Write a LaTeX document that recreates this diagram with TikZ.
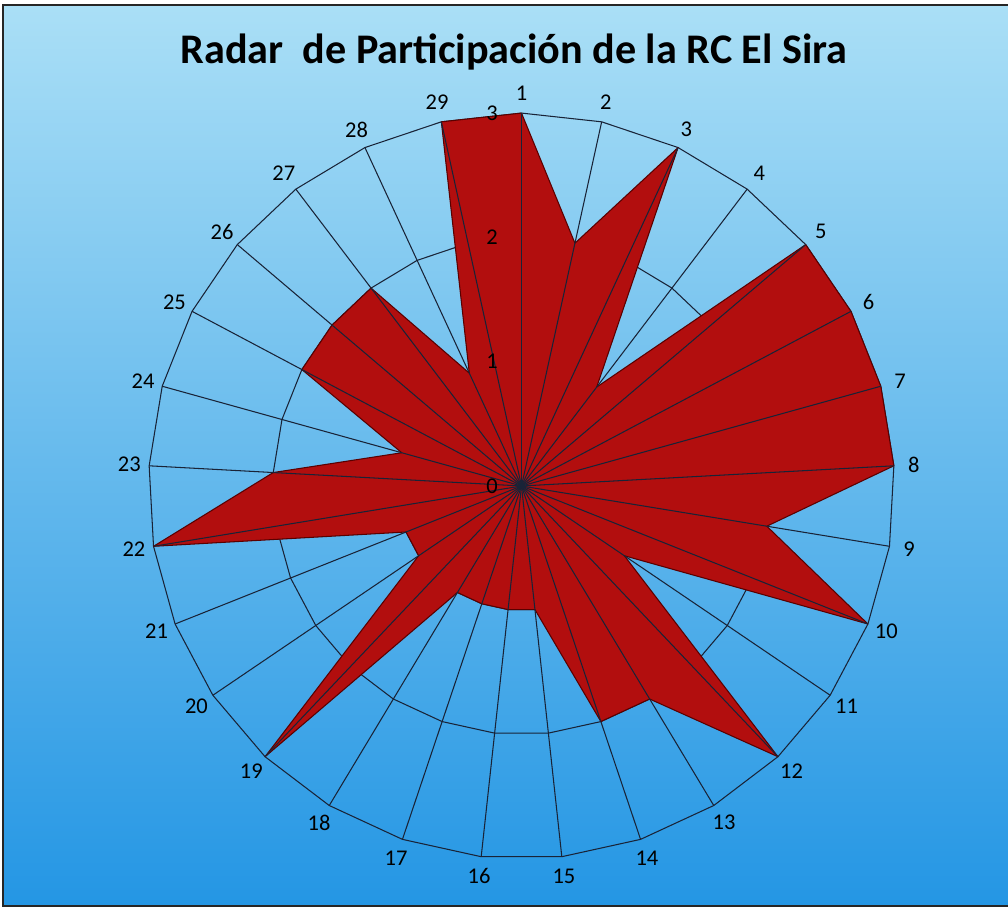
\documentclass[tikz,border=0pt]{standalone}
\usepackage{fontspec}
\setmainfont{Carlito}
\definecolor{skytop}{RGB}{170,223,246}
\definecolor{skymid}{RGB}{112,196,240}
\definecolor{skybot}{RGB}{36,150,228}
\definecolor{radarred}{RGB}{178,14,14}
\definecolor{radaredge}{RGB}{90,0,0}
\definecolor{gridline}{RGB}{25,35,55}

\begin{document}
\begin{tikzpicture}
[grid/.style={gridline,line width=0.6pt},
 axislabel/.style={font=\fontsize{12.8}{14}\selectfont,inner sep=0pt},
 series/.style={fill=radarred,draw=radaredge,line width=0.6pt,line join=round}]
\useasboundingbox (0,0) rectangle (20.16,18.22);
\fill[white] (0,0) rectangle (20.16,18.22);
\shade[top color=skytop,middle color=skymid,bottom color=skybot] (0.06,0.1) rectangle (20.16,18.12);
\draw[line width=1pt,black!85] (20.16,18.12) -- (0.06,18.12) -- (0.06,0.1) -- (20.16,0.1);
\node (title) at (10.28,17.17) {\fontsize{24}{28}\selectfont\bfseries Radar~ de Participación de la RC El Sira};
\coordinate (c) at (10.43,8.50);
\begin{scope}[shift={(c)},x=2.486cm,y=2.486cm]
\foreach \k in {1,...,29}
  \coordinate (o\k) at ({90-(\k-1)*360/29}:3);
\foreach \v [count=\k] in {3,2,3,1,3,3,3,3,2,3,1,3,2,2,1,1,1,1,3,1,1,3,2,1,2,2,2,1,3}
  \coordinate (p\k) at ({90-(\k-1)*360/29}:\v);
\foreach \r in {1,2,3}
  \draw[grid] (90:\r) \foreach \k in {2,...,29} {-- ({90-(\k-1)*360/29}:\r)} -- cycle;
\draw[series] (p1) \foreach \k in {2,...,29} {-- (p\k)} -- cycle;
\foreach \k in {1,...,29}
  \draw[grid] (c) -- (o\k);
\foreach \k in {1,...,29}
  \node[axislabel] (a\k) at ({90-(\k-1)*360/29}:3.16) {\k};
\foreach \v in {0,...,3}
  \node[axislabel] (v\v) at (-0.237,\v) {\v};
\end{scope}
\end{tikzpicture}
\end{document}
